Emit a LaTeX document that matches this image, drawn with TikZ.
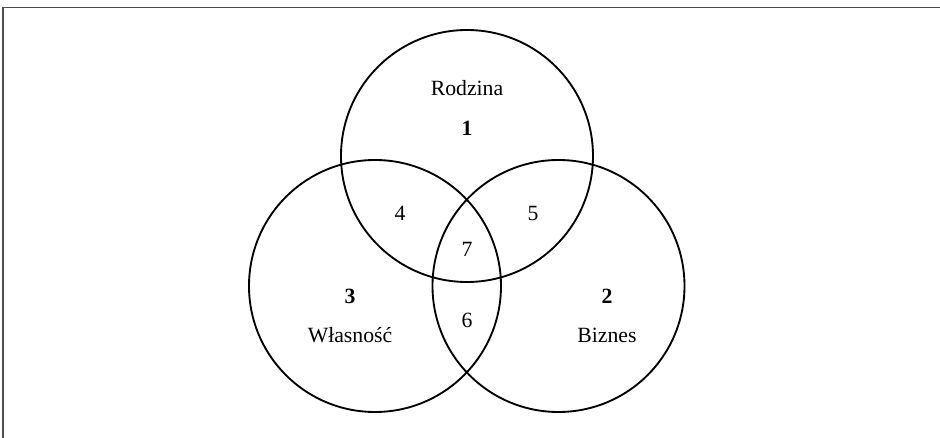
\documentclass[tikz,border=0pt]{standalone}
\usepackage{fontspec}
\setmainfont{Liberation Serif}
\usepackage{tikz}
\usetikzlibrary{positioning}

\begin{document}
\begin{tikzpicture}[
    x=0.75pt, y=-0.75pt,
    setcircle/.style={circle, draw=black, line width=1.4pt, minimum size=189pt, inner sep=0pt},
    setlabel/.style={font=\fontsize{16.3}{19}\selectfont, inner sep=1pt},
    setnumber/.style={font=\fontsize{16.3}{19}\selectfont\bfseries, inner sep=1pt},
    framerule/.style={draw=black!70, line width=1.2pt},
]
\useasboundingbox (0,0) rectangle (940,438);
% frame
\coordinate (topleft) at (3,7.5);
\coordinate (topright) at (940,7.5);
\coordinate (bottomleft) at (3,438);
\draw[framerule] (topright) -- (topleft) -- (bottomleft);

% circles
\node[setcircle] (rodzina) at (467,156) {};
\node[setcircle] (wlasnosc) at (375,286) {};
\node[setcircle] (biznes) at (558.5,286) {};

% labels
\node[setlabel] (rodzinatext) at (467,88) {Rodzina};
\node[setnumber, below=30pt of rodzinatext.center, anchor=center] (one) {1};
\node[setnumber] (three) at (350,296) {3};
\node[setlabel, below=29.5pt of three.center, anchor=center] (wlasnosctext) {Własność};
\node[setnumber] (two) at (607,296) {2};
\node[setlabel, below=29.5pt of two.center, anchor=center] (biznestext) {Biznes};

% overlaps
\node[setlabel] (four) at (400,213) {4};
\node[setlabel] (five) at (533,213) {5};
\node[setlabel] (seven) at (467,249) {7};
\node[setlabel] (six) at (467,320) {6};
\end{tikzpicture}
\end{document}
